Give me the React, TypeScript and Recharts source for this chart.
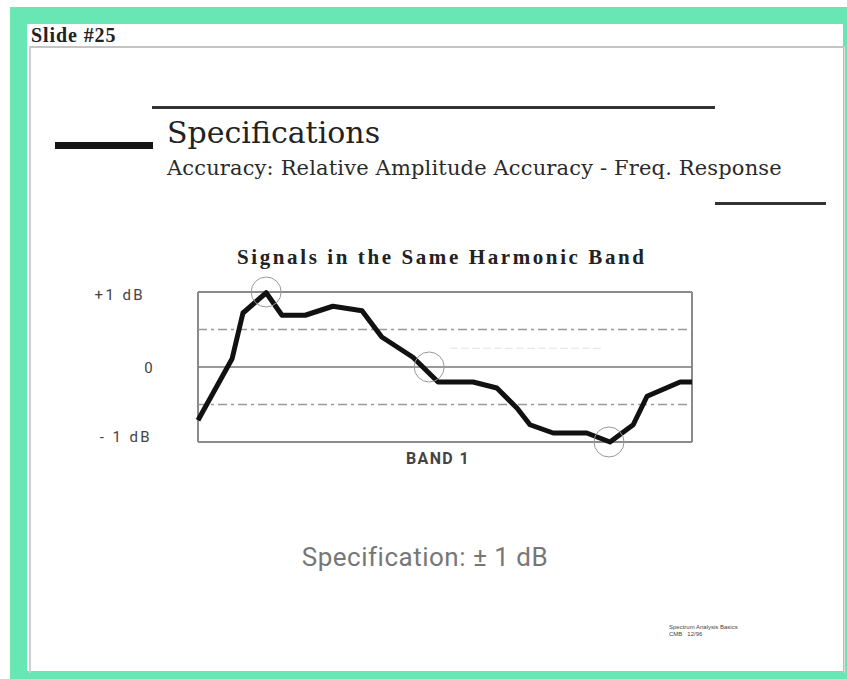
import React from "react";
import {
  LineChart,
  Line,
  XAxis,
  YAxis,
  ReferenceLine,
  ReferenceDot,
  Label,
} from "recharts";

// position along the band (0-100) and relative amplitude (dB)
const bandPos = [
  0, 6.9, 9.1, 13.8, 17.0, 21.7, 27.3, 33.2, 37.2, 43.5, 48.6, 55.7, 60.5,
  64.6, 67.2, 71.9, 78.7, 83.4, 88.1, 90.9, 97.6, 100,
];
const response = [
  -0.71, 0.11, 0.72, 0.99, 0.69, 0.69, 0.81, 0.75, 0.4, 0.13, -0.2, -0.2,
  -0.28, -0.55, -0.77, -0.88, -0.88, -1.0, -0.77, -0.39, -0.2, -0.2,
];

// highlighted points (circled)
const circleX = [13.8, 46.8, 83.2];
const circleY = [1.0, 0, -1.0];

const yTicks = [1, 0, -1];
const yTickLabels: Record<string, string> = {
  "1": "+1 dB",
  "0": "0",
  "-1": "- 1 dB",
};

const GREEN = "#68e6b4";

const YTick = (props: any) => {
  const { x, y, payload } = props;
  const v = payload.value;
  // labels in the slide are not aligned perfectly
  const off = v === 1 ? 53 : v === 0 ? 43 : 46;
  const dy = v === 1 ? 3 : v === 0 ? 1 : -5;
  return (
    <text
      x={x - off}
      y={y + dy}
      textAnchor="end"
      dominantBaseline="central"
      fill="#444"
      fontSize={15}
      letterSpacing={2.4}
      fontFamily="Roboto, sans-serif"
    >
      {yTickLabels[String(v)]}
    </text>
  );
};

const App = () => {
  const data = bandPos.map((x, i) => ({ x, db: response[i] }));

  return (
    <div
      style={{
        position: "absolute",
        left: 0,
        top: 0,
        width: 847,
        height: 679,
        background: "#fff",
        overflow: "hidden",
      }}
    >
      {/* green slide frame */}
      <div
        style={{
          position: "absolute",
          left: 10,
          top: 7,
          width: 837,
          height: 672,
          background: GREEN,
        }}
      />
      <div
        style={{
          position: "absolute",
          left: 27,
          top: 24,
          width: 816,
          height: 647,
          background: "#fff",
        }}
      />
      <div
        style={{
          position: "absolute",
          left: 31,
          top: 24,
          fontFamily: "'Liberation Serif', serif",
          fontWeight: 700,
          fontSize: 20,
          letterSpacing: 0.9,
          color: "#222",
          whiteSpace: "nowrap",
        }}
      >
        Slide #25
      </div>
      <div
        style={{
          position: "absolute",
          left: 29,
          top: 46,
          width: 813,
          height: 625,
          borderTop: "2px solid #c4c4c4",
          borderLeft: "2px solid #cfcfcf",
          borderRight: "1px solid #e0e0e0",
        }}
      />

      {/* header rules */}
      <div style={{ position: "absolute", left: 152, top: 106, width: 563, height: 3, background: "#333" }} />
      <div style={{ position: "absolute", left: 55, top: 142, width: 98, height: 7, background: "#151515" }} />
      <div style={{ position: "absolute", left: 715, top: 202, width: 111, height: 3, background: "#333" }} />

      <div
        style={{
          position: "absolute",
          left: 167,
          top: 115,
          fontFamily: "'DejaVu Serif', serif",
          fontSize: 30,
          color: "#222",
          whiteSpace: "nowrap",
        }}
      >
        Specifications
      </div>
      <div
        style={{
          position: "absolute",
          left: 167,
          top: 156,
          fontFamily: "'DejaVu Serif', serif",
          fontSize: 21,
          letterSpacing: 0.15,
          color: "#2a2a2a",
          whiteSpace: "nowrap",
        }}
      >
        Accuracy: Relative Amplitude Accuracy - Freq. Response
      </div>

      {/* chart title */}
      <div
        style={{
          position: "absolute",
          left: 237,
          top: 245,
          fontFamily: "'Liberation Serif', serif",
          fontWeight: 700,
          fontSize: 21,
          letterSpacing: 2.6,
          color: "#222",
          whiteSpace: "nowrap",
        }}
      >
        Signals in the Same Harmonic Band
      </div>

      <div style={{ position: "absolute", left: 60, top: 262 }}>
        <LineChart
          width={660}
          height={218}
          data={data}
          margin={{ top: 30, right: 28, bottom: 8, left: 68 }}
        >
          <XAxis
            dataKey="x"
            type="number"
            domain={[0, 100]}
            tick={false}
            axisLine={false}
            tickLine={false}
            height={30}
          >
            <Label
              value="BAND 1"
              position="center"
              dx={-7}
              dy={1}
              style={{
                fill: "#444",
                fontFamily: "Roboto, sans-serif",
                fontWeight: 700,
                fontSize: 16,
                letterSpacing: 1.4,
              }}
            />
          </XAxis>
          <YAxis
            type="number"
            domain={[-1, 1]}
            ticks={yTicks}
            width={70}
            axisLine={false}
            tickLine={false}
            tickSize={0}
            tickMargin={0}
            tick={<YTick />}
          />

          {/* plot box */}
          <ReferenceLine y={1} stroke="#8a8a8a" strokeWidth={2} />
          <ReferenceLine y={-1} stroke="#8a8a8a" strokeWidth={2} />
          <ReferenceLine x={0} stroke="#8a8a8a" strokeWidth={2} />
          <ReferenceLine x={100} stroke="#8a8a8a" strokeWidth={2} />

          <ReferenceLine y={0} stroke="#777" strokeWidth={1.5} />
          <ReferenceLine y={0.5} stroke="#999" strokeWidth={1.5} strokeDasharray="9 4 3 4" />
          <ReferenceLine y={-0.5} stroke="#999" strokeWidth={1.5} strokeDasharray="9 4 3 4" />
          <ReferenceLine
            segment={[
              { x: 51, y: 0.25 },
              { x: 82, y: 0.25 },
            ]}
            stroke="#e2e2e2"
            strokeWidth={1}
            strokeDasharray="8 3"
          />

          {circleX.map((cx, i) => (
            <ReferenceDot
              key={`c-${i}`}
              x={cx}
              y={circleY[i]}
              r={15}
              fill="none"
              stroke="#999"
              strokeWidth={1}
            />
          ))}

          <Line
            type="linear"
            dataKey="db"
            stroke="#111"
            strokeWidth={5}
            strokeLinejoin="round"
            dot={false}
            activeDot={false}
            isAnimationActive={false}
          />
        </LineChart>
      </div>

      <div
        style={{
          position: "absolute",
          left: 0,
          width: 850,
          top: 542,
          textAlign: "center",
          fontFamily: "Roboto, sans-serif",
          fontSize: 26,
          letterSpacing: 0.5,
          color: "#777",
        }}
      >
        Specification: ± 1 dB
      </div>

      <div
        style={{
          position: "absolute",
          left: 669,
          top: 624,
          fontFamily: "'Liberation Sans', sans-serif",
          fontSize: 6,
          lineHeight: "7px",
          color: "#444",
          whiteSpace: "pre",
        }}
      >
        {"Spectrum Analysis Basics\nCMB   12/96"}
      </div>
    </div>
  );
};

export default App;
